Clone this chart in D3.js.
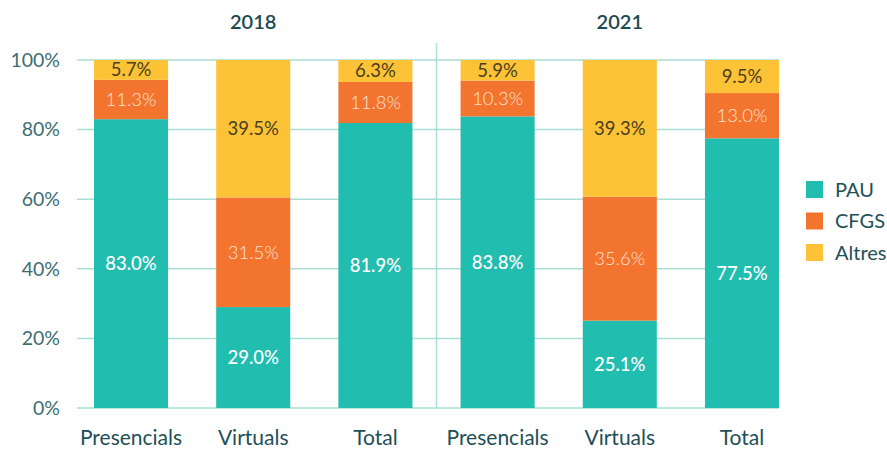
<!DOCTYPE html>
<html>
<head>
<meta charset="utf-8">
<script src="https://cdn.jsdelivr.net/npm/d3@7"></script>
<style>
  body { margin: 0; background: #fff; }
  svg { font-family: Lato, "Noto Sans", sans-serif; }
</style>
</head>
<body>
<script>
// data
var years = ["2018", "2021"];
var categories = ["Presencials", "Virtuals", "Total"];
var series = ["PAU", "CFGS", "Altres"];
var pau    = [83.0, 29.0, 81.9, 83.8, 25.1, 77.5];
var cfgs   = [11.3, 31.5, 11.8, 10.3, 35.6, 13.0];
var altres = [5.7, 39.5, 6.3, 5.9, 39.3, 9.5];
var yTicks = [0, 20, 40, 60, 80, 100];

var colors = {PAU: "#21bdaf", CFGS: "#f3742f", Altres: "#fdc236"};
var labelColors = {PAU: "#ffffff", CFGS: "#fde2d2", Altres: "#4a3f20"};
var labelWeights = {PAU: 500, CFGS: 300, Altres: 400};

var width = 887, height = 449;

// one row per bar
var rows = [];
years.forEach(function(yr, g){
  categories.forEach(function(c, i){
    var k = g * categories.length + i;
    rows.push({key: yr + "-" + c, year: yr, cat: c, PAU: pau[k], CFGS: cfgs[k], Altres: altres[k]});
  });
});

var x = d3.scaleBand()
  .domain(rows.map(function(d){ return d.key; }))
  .range([94, 779])
  .paddingInner(0.394)
  .paddingOuter(0);

var y = d3.scaleLinear().domain([0, 100]).range([408, 60]);

var svg = d3.select("body").append("svg")
  .attr("width", width)
  .attr("height", height);

// gridlines
svg.append("g").selectAll("line")
  .data(yTicks)
  .enter().append("line")
  .attr("x1", 77).attr("x2", 779)
  .attr("y1", function(d){ return y(d); })
  .attr("y2", function(d){ return y(d); })
  .attr("stroke", "#a9ddd5")
  .attr("stroke-width", 1.5);

// y axis labels
svg.append("g").selectAll("text")
  .data(yTicks)
  .enter().append("text")
  .attr("x", 60)
  .attr("y", function(d){ return y(d); })
  .attr("dy", "0.35em")
  .attr("text-anchor", "end")
  .attr("fill", "#3e6d71")
  .attr("font-size", 19.5)
  .text(function(d){ return d + "%"; });

// divider between years
var divX = (x(rows[2].key) + x.bandwidth() + x(rows[3].key)) / 2;
svg.append("line")
  .attr("x1", divX).attr("x2", divX)
  .attr("y1", 43).attr("y2", y(0))
  .attr("stroke", "#a9ddd5")
  .attr("stroke-width", 1.5);

var stack = d3.stack().keys(series);
var stacked = stack(rows);

var layers = svg.append("g").selectAll("g")
  .data(stacked)
  .enter().append("g")
  .attr("fill", function(d){ return colors[d.key]; });

layers.selectAll("rect")
  .data(function(d){ return d; })
  .enter().append("rect")
  .attr("x", function(d){ return x(d.data.key); })
  .attr("y", function(d){ return y(d[1]); })
  .attr("width", x.bandwidth())
  .attr("height", function(d){ return y(d[0]) - y(d[1]); });

// value labels
stacked.forEach(function(layer){
  svg.append("g").selectAll("text")
    .data(layer)
    .enter().append("text")
    .attr("x", function(d){ return x(d.data.key) + x.bandwidth() / 2; })
    .attr("y", function(d){ return (y(d[0]) + y(d[1])) / 2; })
    .attr("dy", "0.35em")
    .attr("text-anchor", "middle")
    .attr("font-size", 18.5)
    .attr("font-weight", labelWeights[layer.key])
    .attr("fill", labelColors[layer.key])
    .text(function(d){ return d.data[layer.key].toFixed(1) + "%"; });
});

// category labels
svg.append("g").selectAll("text")
  .data(rows)
  .enter().append("text")
  .attr("x", function(d){ return x(d.key) + x.bandwidth() / 2; })
  .attr("y", 445)
  .attr("text-anchor", "middle")
  .attr("fill", "#1e4f57")
  .attr("font-size", 21)
  .text(function(d){ return d.cat; });

// year labels over the middle bar of each group
svg.append("g").selectAll("text")
  .data(years)
  .enter().append("text")
  .attr("x", function(yr){ return x(yr + "-" + categories[1]) + x.bandwidth() / 2; })
  .attr("y", 29)
  .attr("text-anchor", "middle")
  .attr("fill", "#1b4a52")
  .attr("font-size", 20)
  .attr("font-weight", 600)
  .text(function(d){ return d; });

// legend
var legend = svg.append("g").attr("transform", "translate(806,181)");
var item = legend.selectAll("g")
  .data(series)
  .enter().append("g")
  .attr("transform", function(d, i){ return "translate(0," + (i * 31.5) + ")"; });
item.append("rect")
  .attr("width", 17).attr("height", 17)
  .attr("fill", function(d){ return colors[d]; });
item.append("text")
  .attr("x", 29).attr("y", 8.5)
  .attr("dy", "0.35em")
  .attr("fill", "#1e4f57")
  .attr("font-size", 20)
  .text(function(d){ return d; });
</script>
</body>
</html>
